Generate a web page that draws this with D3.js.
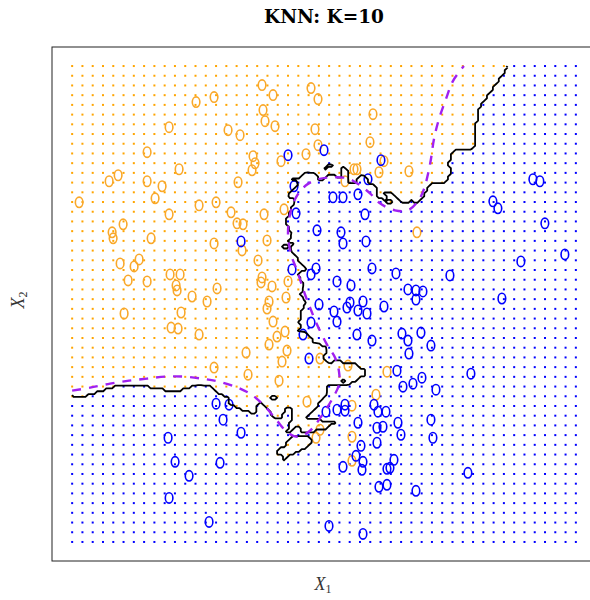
<!DOCTYPE html>
<html>
<head>
<meta charset="utf-8">
<script src="https://cdn.jsdelivr.net/npm/d3@7"></script>
<style>
  body { margin: 0; background: #fff; }
</style>
</head>
<body>
<svg id="chart" width="590" height="600"></svg>
<script>
// training points, [X1, X2]
const orangePts = [
  [124,439],[142,444],[97,414],[156,411],[75,389],[107,372],[46,366],[37,360],[75,360],[90,355],
  [83,343],[7,339],[127,336],[144,339],[97,327],[159,329],[190,456],[201,446],[239,453],[246,442],
  [301,427],[191,431],[193,420],[203,415],[168,406],[243,412],[298,399],[246,396],[234,387],[181,385],
  [183,378],[180,371],[209,380],[312,380],[337,370],[307,369],[282,372],[285,372],[273,360],[166,359],
  [212,332],[192,327],[165,318],[171,317],[51,317],[40,309],[41,303],[79,303],[142,298],[48,278],
  [62,275],[67,282],[56,261],[75,260],[98,267],[108,267],[104,256],[105,251],[120,245],[135,240],
  [145,253],[52,228],[109,229],[99,214],[106,213],[127,207],[142,174],[195,301],[170,291],[186,281],
  [190,264],[189,259],[200,255],[216,260],[214,244],[197,240],[195,233],[201,220],[213,210],[205,205],
  [197,197],[215,191],[174,189],[210,180],[248,183],[276,176],[315,170],[176,167],[207,161],[345,309],
  [235,140],[280,136],[304,147],[248,112],[244,104],[280,105],[280,81]
];
const bluePts = [
  [252,391],[216,386],[309,381],[296,362],[222,355],[261,344],[271,344],[286,347],[224,328],[293,327],
  [461,362],[468,360],[421,340],[426,333],[473,318],[245,311],[269,309],[271,298],[294,300],[169,300],
  [220,272],[239,267],[244,273],[300,273],[324,268],[265,260],[279,256],[336,252],[247,237],[262,230],
  [265,220],[278,239],[275,234],[286,231],[291,240],[295,228],[312,235],[239,219],[231,207],[285,207],
  [300,201],[330,208],[336,201],[237,183],[325,171],[337,188],[331,155],[493,287],[449,280],[378,266],
  [344,251],[351,250],[344,242],[430,243],[349,209],[359,196],[399,168],[350,164],[341,158],[364,152],
  [144,138],[157,137],[151,122],[96,104],[103,80],[148,79],[117,66],[97,44],[137,20],[254,130],
  [265,132],[273,137],[273,131],[302,137],[306,130],[314,130],[286,119],[305,114],[311,115],[326,119],
  [329,107],[169,109],[289,96],[305,99],[284,86],[291,80],[290,72],[271,75],[322,82],[315,73],
  [318,74],[307,55],[315,57],[257,16],[291,8],[359,122],[361,104],[396,69],[344,51]
];
// Bayes decision boundary
const bayesCurve = [
  [0,151],[18,154],[38,158],[57,161],[75,163],[93,165],[112,165],[130,163],[147,160],[168,153],
  [181,146],[195,133],[205,121],[216,109],[226,105],[238,111],[251,128],[261,144],[267,157],[267,170],
  [263,184],[255,197],[245,217],[238,234],[233,247],[225,271],[219,287],[216,307],[218,327],[224,344],
  [234,356],[246,362],[261,364],[275,363],[285,358],[298,348],[308,338],[323,331],[336,331],[346,340],
  [352,352],[356,367],[359,382],[362,402],[367,422],[374,442],[381,460],[392,475]
];
const x1Extent = [0, 504];
const x2Extent = [0, 475];
const K = 10;
const gridSize = 50;
const x2Weight = 1.3; // X2 is stretched relative to X1 in the original units

const svg = d3.select("#chart");
const margin = {top: 47, right: -6, bottom: 39, left: 52};
const width = 590 - margin.left - margin.right,
      height = 600 - margin.top - margin.bottom;

const padX = (x1Extent[1] - x1Extent[0]) * 0.04,
      padY = (x2Extent[1] - x2Extent[0]) * 0.04;
const x = d3.scaleLinear()
    .domain([x1Extent[0] - padX, x1Extent[1] + padX])
    .range([margin.left, margin.left + width]);
const y = d3.scaleLinear()
    .domain([x2Extent[0] - padY, x2Extent[1] + padY])
    .range([margin.top + height, margin.top]);

const train = orangePts.map(p => ({x: p[0], y: p[1], c: 1}))
    .concat(bluePts.map(p => ({x: p[0], y: p[1], c: 0})));

// share of orange among the K nearest neighbours, ties go to the nearest one
function vote(px, py) {
    const d = train.map(t => [(t.x - px) ** 2 + ((t.y - py) * x2Weight) ** 2, t.c]);
    d.sort((a, b) => a[0] - b[0]);
    let s = 0;
    for (let i = 0; i < K; i++) s += d[i][1];
    let p = s / K;
    if (p === 0.5) p += d[0][1] ? 0.05 : -0.05;
    return p;
}

// grid of predictions
const gx = d3.range(gridSize).map(i => x1Extent[0] + i * (x1Extent[1] - x1Extent[0]) / (gridSize - 1));
const gy = d3.range(gridSize).map(i => x2Extent[0] + i * (x2Extent[1] - x2Extent[0]) / (gridSize - 1));
const grid = [];
gx.forEach(a => gy.forEach(b => grid.push({x: a, y: b, c: vote(a, b) > 0.5 ? 1 : 0})));

svg.append("g").selectAll("rect").data(grid).enter().append("rect")
    .attr("x", d => x(d.x) - 1)
    .attr("y", d => y(d.y) - 1)
    .attr("width", 2)
    .attr("height", 2)
    .attr("fill", d => d.c ? "#FFA500" : "#0000FF");

// points
svg.append("g").selectAll("ellipse").data(train).enter().append("ellipse")
    .attr("cx", d => x(d.x))
    .attr("cy", d => y(d.y))
    .attr("rx", 3.8)
    .attr("ry", 5.2)
    .attr("fill", "none")
    .attr("stroke", d => d.c ? "#F9A82A" : "#0000FF")
    .attr("stroke-width", 1.6);

// KNN boundary: contour of the vote at 0.5 on a fine grid
const n = 170, m = 170;
const cw = (x1Extent[1] - x1Extent[0]) / n, ch = (x2Extent[1] - x2Extent[0]) / m;
const values = new Array(n * m);
for (let j = 0; j < m; j++) {
    for (let i = 0; i < n; i++) {
        values[i + j * n] = vote(x1Extent[0] + (i + 0.5) * cw, x2Extent[0] + (j + 0.5) * ch);
    }
}
const contour = d3.contours().size([n, m]).thresholds([0.5])(values)[0];
const cx = p => x(x1Extent[0] + p[0] * cw).toFixed(2);
const cy = p => y(x2Extent[0] + p[1] * ch).toFixed(2);
const onBorder = p => p[0] === 0 || p[0] === n || p[1] === 0 || p[1] === m;
let pathStr = "";
contour.coordinates.forEach(poly => poly.forEach(ring => {
    let pen = false;
    for (let k = 0; k < ring.length - 1; k++) {
        const p = ring[k], q = ring[k + 1];
        if (onBorder(p) && onBorder(q)) { pen = false; continue; }
        if (!pen) { pathStr += "M" + cx(p) + "," + cy(p); pen = true; }
        pathStr += "L" + cx(q) + "," + cy(q);
    }
}));
svg.append("path")
    .attr("d", pathStr)
    .attr("fill", "none")
    .attr("stroke", "#000")
    .attr("stroke-width", 1.8)
    .attr("stroke-linejoin", "round");

// Bayes boundary
const line = d3.line()
    .x(d => x(d[0]))
    .y(d => y(d[1]))
    .curve(d3.curveCatmullRom);
svg.append("path")
    .datum(bayesCurve)
    .attr("d", line)
    .attr("fill", "none")
    .attr("stroke", "#A020F0")
    .attr("stroke-width", 2.4)
    .attr("stroke-dasharray", "9,8");

// frame
svg.append("rect")
    .attr("x", margin.left)
    .attr("y", margin.top)
    .attr("width", width)
    .attr("height", height)
    .attr("fill", "none")
    .attr("stroke", "#222")
    .attr("stroke-width", 1);

// labels
svg.append("text")
    .attr("x", margin.left + width / 2)
    .attr("y", 23)
    .attr("text-anchor", "middle")
    .style("font-family", "'DejaVu Serif', serif")
    .style("font-weight", "bold")
    .style("font-size", "18.5px")
    .text("KNN: K=10");

const xl = svg.append("text")
    .attr("x", 323)
    .attr("y", 590)
    .attr("text-anchor", "middle")
    .style("font-family", "'Liberation Serif', serif")
    .style("font-size", "18px")
    .style("fill", "#333");
xl.append("tspan").style("font-style", "italic").text("X");
xl.append("tspan").attr("dy", 3).style("font-size", "12px").text("1");

const yl = svg.append("text")
    .attr("transform", "translate(24,300) rotate(-90)")
    .attr("text-anchor", "middle")
    .style("font-family", "'Liberation Serif', serif")
    .style("font-size", "18px")
    .style("fill", "#333");
yl.append("tspan").style("font-style", "italic").text("X");
yl.append("tspan").attr("dy", 3).style("font-size", "12px").text("2");
</script>
</body>
</html>
